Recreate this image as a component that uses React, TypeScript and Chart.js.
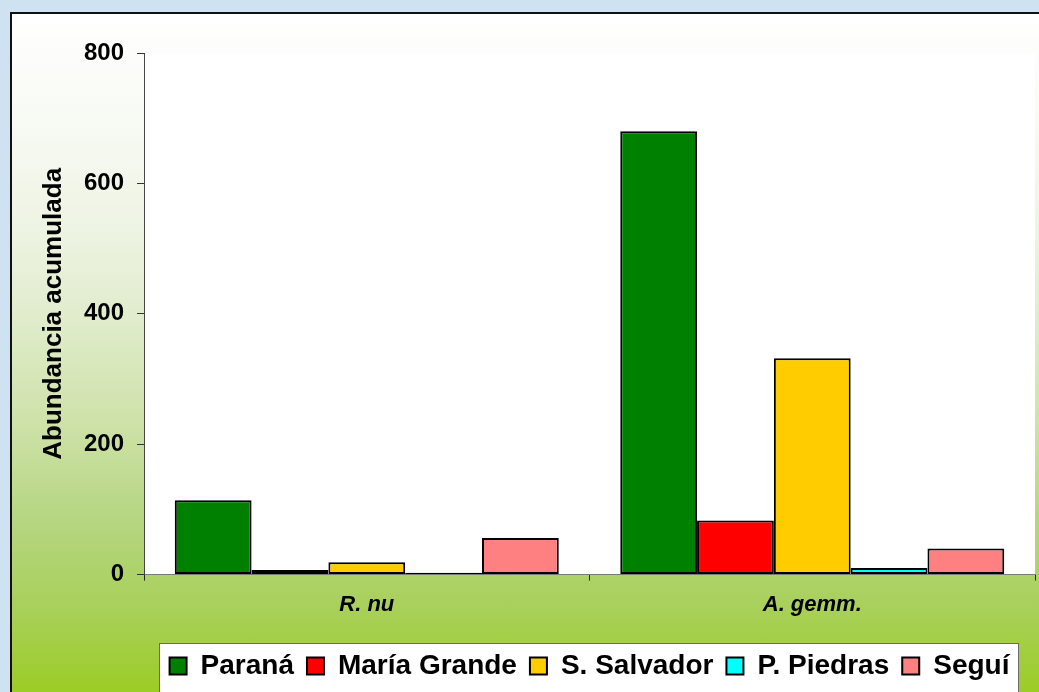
import React, { useEffect, useRef } from "react";
import { Chart, registerables } from "chart.js";

Chart.register(...registerables);

const categories = ["R. nu", "A. gemm."];
const seriesNames = ["Paraná", "María Grande", "S. Salvador", "P. Piedras", "Seguí"];
const parana = [114, 680];
const mariaGrande = [7, 83];
const sSalvador = [19, 332];
const pPiedras = [3, 10];
const segui = [56, 40];
const seriesColors = ["#008000", "#FF0000", "#FFCC00", "#00FFFF", "#FF8080"];
const yTicks = [0, 200, 400, 600, 800];

const FONT = "'Liberation Sans', Arial, Helvetica, sans-serif";

const bgPlugin = {
  id: "bgPlugin",
  beforeDraw(chart: any) {
    const { ctx, chartArea, legend } = chart;
    ctx.save();
    ctx.fillStyle = "#ffffff";
    ctx.fillRect(chartArea.left, chartArea.top, chartArea.right - chartArea.left, chartArea.bottom - chartArea.top);
    if (legend && legend.legendHitBoxes && legend.legendHitBoxes.length) {
      const hb = legend.legendHitBoxes;
      const last = hb[hb.length - 1];
      const l = Math.round(hb[0].left - 11);
      const r = Math.round(last.left + last.width + 9);
      const t = Math.round(legend.top + 4);
      ctx.fillRect(l, t, r - l, chart.height - t + 20);
      ctx.strokeStyle = "#6b6b6b";
      ctx.lineWidth = 1;
      ctx.strokeRect(l + 0.5, t + 0.5, r - l, chart.height - t + 20);
    }
    ctx.restore();
  },
};

export default function App() {
  const canvasRef = useRef<HTMLCanvasElement | null>(null);

  useEffect(() => {
    if (!canvasRef.current) return;
    const values = [parana, mariaGrande, sSalvador, pPiedras, segui];
    const chart = new Chart(canvasRef.current, {
      type: "bar",
      data: {
        labels: categories,
        datasets: seriesNames.map((name, i) => ({
          label: name,
          data: values[i],
          backgroundColor: seriesColors[i],
          borderColor: "#000000",
          borderWidth: 2,
          borderSkipped: false,
          categoryPercentage: 0.862,
          barPercentage: 1,
        })),
      },
      options: {
        animation: false,
        responsive: false,
        maintainAspectRatio: false,
        devicePixelRatio: 1,
        layout: { padding: { top: 39, left: 22, right: 4, bottom: 2 } },
        plugins: {
          tooltip: { enabled: false },
          legend: {
            position: "bottom",
            fullSize: false,
            labels: {
              color: "#000",
              font: { family: FONT, size: 28, weight: "bold" },
              boxWidth: 17,
              boxHeight: 17,
              padding: 13,
            },
          },
        },
        scales: {
          x: {
            grid: {
              offset: true,
              drawOnChartArea: false,
              drawTicks: true,
              tickLength: 6,
              color: "#222",
              lineWidth: 1,
            },
            border: { display: true, color: "#7a7a7a", width: 1 },
            ticks: {
              color: "#000",
              padding: 11,
              font: { family: FONT, size: 22, weight: "bold", style: "italic" },
            },
            afterFit(scale: any) {
              scale.height += 10;
            },
          },
          y: {
            min: 0,
            max: 800,
            afterBuildTicks(scale: any) {
              scale.ticks = yTicks.map((v) => ({ value: v }));
            },
            grid: {
              drawOnChartArea: false,
              drawTicks: true,
              tickLength: 7,
              color: "#333",
            },
            border: { display: true, color: "#444", width: 1 },
            ticks: {
              color: "#000",
              padding: 13,
              font: { family: FONT, size: 24, weight: "bold" },
            },
            title: {
              display: true,
              text: "Abundancia acumulada",
              color: "#000",
              font: { family: FONT, size: 26, weight: "bold" },
              padding: { top: 4, bottom: 1.8 },
            },
          },
        },
      },
      plugins: [bgPlugin],
    });
    return () => chart.destroy();
  }, []);

  return (
    <div
      style={{
        position: "fixed",
        left: 0,
        top: 0,
        width: 1039,
        height: 692,
        overflow: "hidden",
        background: "#CFE2F1",
      }}
    >
      <div
        style={{
          position: "absolute",
          left: 10,
          top: 12,
          width: 1100,
          height: 700,
          borderLeft: "2px solid #111",
          borderTop: "2px solid #111",
          background:
            "linear-gradient(to bottom, #ffffff 0%, #f8faf4 15%, #eef4e4 30%, #e2edcf 42%, #cfe2aa 58%, #b6d682 72%, #a8d05a 85%, #99cb18 100%)",
        }}
      >
        <canvas
          ref={canvasRef}
          width={1027}
          height={678}
          style={{ position: "absolute", left: 0, top: 0, width: 1027, height: 678 }}
        />
      </div>
    </div>
  );
}
